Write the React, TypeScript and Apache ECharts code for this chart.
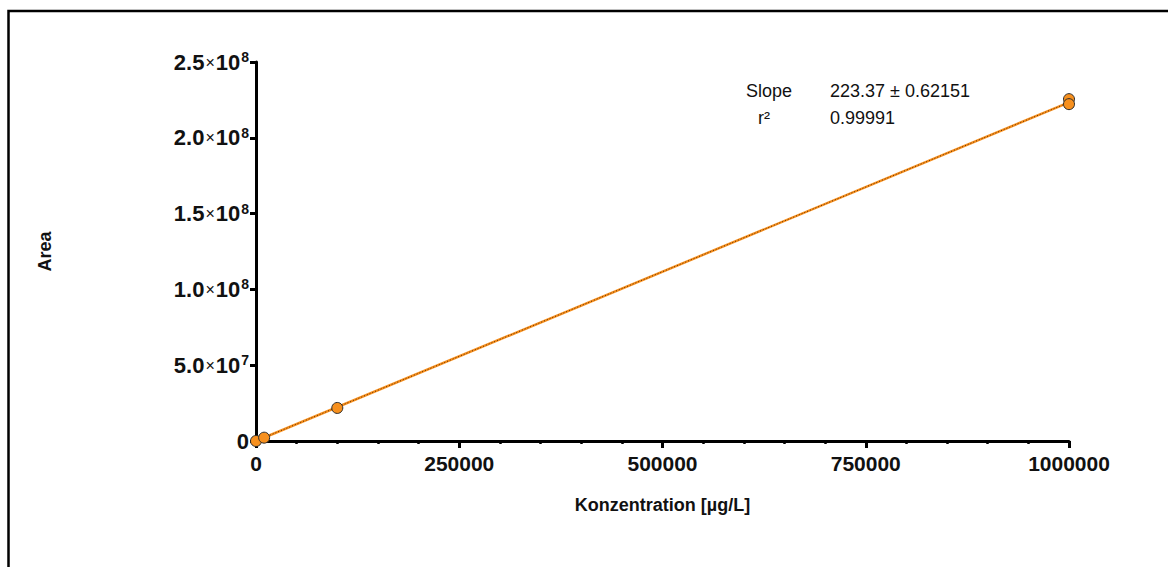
import React, { useEffect, useRef } from "react";
import * as echarts from "echarts";

// Calibration measurements
const concentrations = [0, 10000, 100000, 1000000, 1000000];
const areas = [0, 2.2e6, 2.18e7, 2.255e8, 2.222e8];

// Linear regression result
const slope = 223.37;
const slopeError = 0.62151;
const intercept = 0;
const rSquared = 0.99991;

// Axis ranges
const xMin = 0;
const xMax = 1000000;
const xStep = 250000;
const yMin = 0;
const yMax = 2.5e8;
const yStep = 5e7;

const FONT = "'Liberation Sans', Arial, Helvetica, sans-serif";
const ORANGE = "#F7901E";
const DARK = "#2b2b2b";

function sciLabel(v: number): string {
  if (v === 0) return "{z|0}";
  const exp = Math.floor(Math.log10(v) + 1e-9);
  const mant = (v / Math.pow(10, exp)).toFixed(1);
  return `{m|${mant}}{x|×}{m|10}{s|${exp}}`;
}

export default function App() {
  const ref = useRef<HTMLDivElement>(null);

  useEffect(() => {
    if (!ref.current) return;
    const chart = echarts.init(ref.current, null, { renderer: "svg" });

    const fitLine = [
      [xMin, intercept + slope * xMin],
      [xMax, intercept + slope * xMax],
    ];
    const points = concentrations.map((c, i) => [c, areas[i]]);

    chart.setOption({
      animation: false,
      backgroundColor: "#ffffff",
      grid: { left: 256, right: 99, top: 62, bottom: 126, containLabel: false },
      xAxis: {
        type: "value",
        min: xMin,
        max: xMax,
        interval: xStep,
        name: "Konzentration [µg/L]",
        nameLocation: "middle",
        nameGap: 55,
        nameTextStyle: { fontFamily: FONT, fontWeight: "bold", fontSize: 18, color: "#111" },
        axisLine: { show: true, lineStyle: { color: "#000", width: 3 } },
        axisTick: { show: true, length: 7, lineStyle: { color: "#000", width: 3 } },
        minorTick: { show: true, splitNumber: 5, length: 3, lineStyle: { color: "#000", width: 2.5 } },
        splitLine: { show: false },
        axisLabel: {
          margin: 12,
          fontFamily: FONT,
          fontWeight: "bold",
          fontSize: 21,
          color: "#111",
          formatter: (v: number) => String(v),
        },
      },
      yAxis: {
        type: "value",
        min: yMin,
        max: yMax,
        interval: yStep,
        name: "Area",
        nameLocation: "middle",
        nameGap: 202,
        nameRotate: 90,
        nameTextStyle: { fontFamily: FONT, fontWeight: "bold", fontSize: 18, color: "#111" },
        axisLine: { show: true, lineStyle: { color: "#000", width: 3 } },
        axisTick: { show: true, length: 6, lineStyle: { color: "#000", width: 3 } },
        splitLine: { show: false },
        axisLabel: {
          margin: 7,
          formatter: sciLabel,
          rich: {
            z: { fontFamily: FONT, fontWeight: "bold", fontSize: 22, color: "#111" },
            m: { fontFamily: FONT, fontWeight: "bold", fontSize: 22, color: "#111" },
            x: { fontFamily: FONT, fontWeight: "normal", fontSize: 16, color: "#111", padding: [0, 1, 0, 1] },
            s: {
              fontFamily: FONT,
              fontWeight: "bold",
              fontSize: 14,
              color: "#111",
              verticalAlign: "top",
              padding: [0, 0, 10, 1],
            },
          },
        },
      },
      series: [
        {
          type: "line",
          data: fitLine,
          symbol: "none",
          lineStyle: { color: ORANGE, width: 2.5 },
          z: 2,
        },
        {
          type: "line",
          data: fitLine,
          symbol: "none",
          lineStyle: { color: "#5a2a00", width: 1, type: [1, 2] },
          z: 3,
        },
        {
          type: "scatter",
          data: points,
          symbol: "circle",
          symbolSize: 11,
          itemStyle: { color: ORANGE, borderColor: DARK, borderWidth: 1, opacity: 1 },
          z: 5,
        },
      ],
      graphic: [
        {
          type: "rect",
          shape: { x: 8.5, y: 11, width: 1300, height: 700 },
          style: { fill: "none", stroke: "#000", lineWidth: 2.5 },
          silent: true,
        },
        {
          type: "text",
          left: 746,
          top: 82,
          style: { text: "Slope", font: `18px ${FONT}`, fill: "#111" },
        },
        {
          type: "text",
          left: 830,
          top: 82,
          style: { text: `${slope} ± ${slopeError}`, font: `18px ${FONT}`, fill: "#111" },
        },
        {
          type: "text",
          left: 758,
          top: 109,
          style: { text: "r²", font: `18px ${FONT}`, fill: "#111" },
        },
        {
          type: "text",
          left: 830,
          top: 109,
          style: { text: String(rSquared), font: `18px ${FONT}`, fill: "#111" },
        },
      ],
    });

    return () => chart.dispose();
  }, []);

  return (
    <div
      ref={ref}
      style={{ position: "fixed", left: 0, top: 0, width: 1168, height: 567, background: "#fff" }}
    />
  );
}
